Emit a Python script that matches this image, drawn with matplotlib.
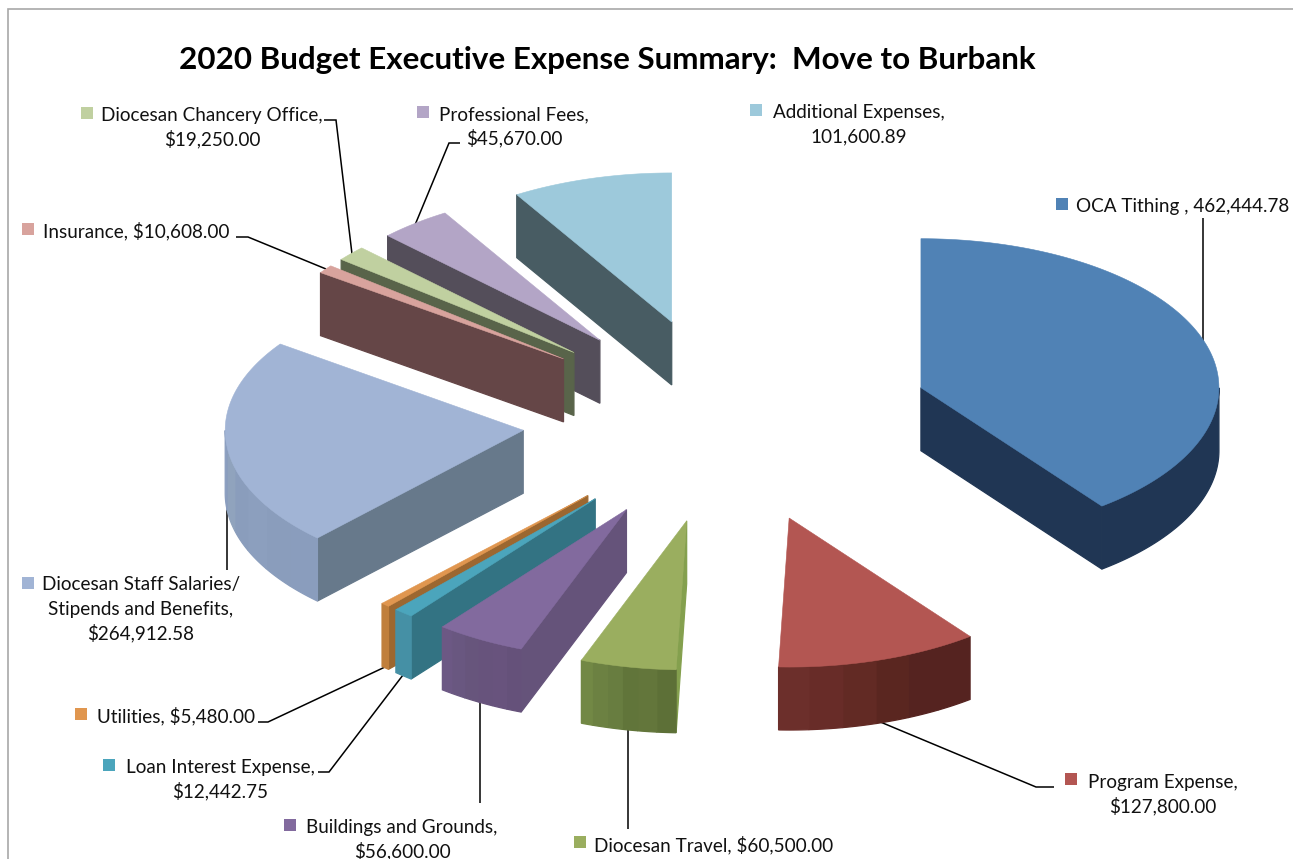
import numpy as np
import matplotlib
matplotlib.use("Agg")
import matplotlib.pyplot as plt
from matplotlib.patches import Polygon, Rectangle

plt.rcParams['font.family'] = ['Lato', 'DejaVu Sans']

# ---- data ----
categories = ["OCA Tithing", "Program Expense", "Diocesan Travel", "Buildings and Grounds",
              "Loan Interest Expense", "Utilities", "Diocesan Staff Salaries/Stipends and Benefits",
              "Insurance", "Diocesan Chancery Office", "Professional Fees", "Additional Expenses"]
values = [462444.78, 127800.00, 60500.00, 56600.00, 12442.75, 5480.00,
          264912.58, 10608.00, 19250.00, 45670.00, 101600.89]
label_texts = ["OCA Tithing , 462,444.78", "Program Expense,\n$127,800.00",
               "Diocesan Travel, $60,500.00", "Buildings and Grounds,\n$56,600.00",
               "Loan Interest Expense,\n$12,442.75", "Utilities, $5,480.00",
               "Diocesan Staff Salaries/\nStipends and Benefits,\n$264,912.58",
               "Insurance, $10,608.00", "Diocesan Chancery Office,\n$19,250.00",
               "Professional Fees,\n$45,670.00", "Additional Expenses,\n101,600.89"]
title = "2020 Budget Executive Expense Summary:  Move to Burbank"

# ---- styles ----
top_colors = ["#5082b5", "#b35652", "#9aae5f", "#826a9e", "#4ba5bc", "#e0964f",
              "#a1b4d5", "#d8a39d", "#c0d0a0", "#b3a5c6", "#9dc9db"]
wall_colors = ["#203654", "#552320", "#84a04e", "#65537a", "#337383", "#9c6730",
               "#67798b", "#654647", "#59644a", "#544e5a", "#485c63"]
arc_bands = [["#203654"],
             ["#552320", "#552320", "#5a2620", "#622a24", "#682c28", "#6c2f2b"],
             ["#5d7037", "#63763b", "#61753a", "#687d40", "#6c8142", "#728845"],
             ["#65517a", "#68537d", "#67537c", "#67557c", "#695780", "#6c5884"],
             ["#4590a5"], ["#c07f3c"],
             ["#8a9dbd", "#8a9dbc", "#8c9fbe", "#8a9dbc", "#90a3bd", "#8b9ebf"],
             ["#654647"], ["#59644a"], ["#544e5a"], ["#485c63"]]

# ---- layout (pixel space) ----
CX, CY, RX, RY, DEPTH, EXPLODE = 727.0, 420.5, 298.0, 149.0, 63.0, 0.687
# centre x, first-line baseline y, key left x, key centre y
label_pos = [(1182.5, 212, 1056, 204), (1163, 788, 1065, 779), (714, 851, 574, 842),
             (402, 833, 284, 825), (220, 773, 103, 765), (176, 722, 75, 714),
             (141, 590, 22, 583), (136, 237, 22, 229), (212, 121, 81, 113),
             (514, 120, 417, 112), (859, 118, 750, 110)]
leaders = [[(1203, 218), (1203, 342)], [(1054, 787), (1036, 787), (878, 721)],
           [(628, 829), (628, 729)], [(480, 803), (480, 702)],
           [(318, 772), (329, 772), (403, 675)], [(258, 722), (268, 722), (385, 667)],
           [(227, 445), (227, 570)], [(236, 237), (248, 237), (326, 269)],
           [(324, 120), (336, 120), (352, 254)], [(460, 143), (449, 143), (415, 225)]]

fig = plt.figure(figsize=(12.93, 8.59), dpi=100, facecolor="white")
ax = fig.add_axes([0, 0, 1, 1])
ax.set_xlim(0, 1293)
ax.set_ylim(859, 0)
ax.axis("off")

ax.plot([7.5, 7.5, 1293], [859, 8.5, 8.5], color="#a8a8a8", lw=1.2, zorder=1, solid_joinstyle="miter")

total = sum(values)
fracs = np.array(values) / total
edges = np.concatenate([[0], np.cumsum(fracs)]) * 2 * np.pi


def rim(ax0, ay0, t):
    return ax0 + RX * np.sin(t), ay0 - RY * np.cos(t)


mids = (edges[:-1] + edges[1:]) / 2
order = np.argsort(-np.cos(mids))
z = 2.0
for i in order:
    t0, t1 = edges[i], edges[i + 1]
    ax0 = CX + EXPLODE * RX * np.sin(mids[i])
    ay0 = CY - EXPLODE * RY * np.cos(mids[i])
    ts = np.linspace(t0, t1, max(int((t1 - t0) * 80), 4))
    xs, ys = rim(ax0, ay0, ts)
    mx, my = rim(ax0, ay0, mids[i])

    # radial walls, only when facing the viewer
    for t in (t0, t1):
        px, py = rim(ax0, ay0, t)
        if abs(px - ax0) < 0.5:
            continue
        line_y = ay0 + (py - ay0) * (mx - ax0) / (px - ax0)
        if my < line_y:
            ax.add_patch(Polygon([(ax0, ay0), (px, py), (px, py + DEPTH), (ax0, ay0 + DEPTH)],
                                 closed=True, fc=wall_colors[i], ec=wall_colors[i], lw=0.9, zorder=z))
            z += 0.01

    # outer curved wall, lower half of the ellipse, one polygon per shading band
    bands = arc_bands[i]
    vis = np.where(np.cos(ts) <= 0)[0]
    if len(vis) > 1:
        chunks = np.array_split(vis, len(bands))
        for b, chunk in enumerate(chunks):
            idx = np.r_[chunk, chunks[b + 1][0]] if b + 1 < len(chunks) else chunk
            upper = np.column_stack([xs[idx], ys[idx]])
            lower = np.column_stack([xs[idx][::-1], ys[idx][::-1] + DEPTH])
            ax.add_patch(Polygon(np.vstack([upper, lower]), closed=True,
                                 fc=bands[b], ec=bands[b], lw=0.9, zorder=z))
            z += 0.001
    z += 0.01

    # top face
    ax.add_patch(Polygon(np.column_stack([np.r_[ax0, xs], np.r_[ay0, ys]]),
                         closed=True, fc=top_colors[i], ec=top_colors[i], lw=0.4, zorder=z))
    z += 0.01

for pts in leaders:
    p = np.array(pts)
    ax.plot(p[:, 0], p[:, 1], color="black", lw=1.1, zorder=1.5,
            solid_capstyle="butt", solid_joinstyle="miter")

ax.text(607.5, 60, title, ha="center", va="center", fontsize=22.6, fontweight="bold", color="black", zorder=30)

KEY = 12
LINE = 24.5
for txt, (lx, ly, kx, ky), col in zip(label_texts, label_pos, top_colors):
    ax.add_patch(Rectangle((kx, ky - KEY / 2), KEY, KEY, fc=col, ec="none", zorder=30))
    for n, line in enumerate(txt.split("\n")):
        ax.text(lx, ly + n * LINE, line, ha="center", va="baseline", fontsize=13.55,
                color="#111111", zorder=30)

fig.savefig("out.png", dpi=100, facecolor="white")
